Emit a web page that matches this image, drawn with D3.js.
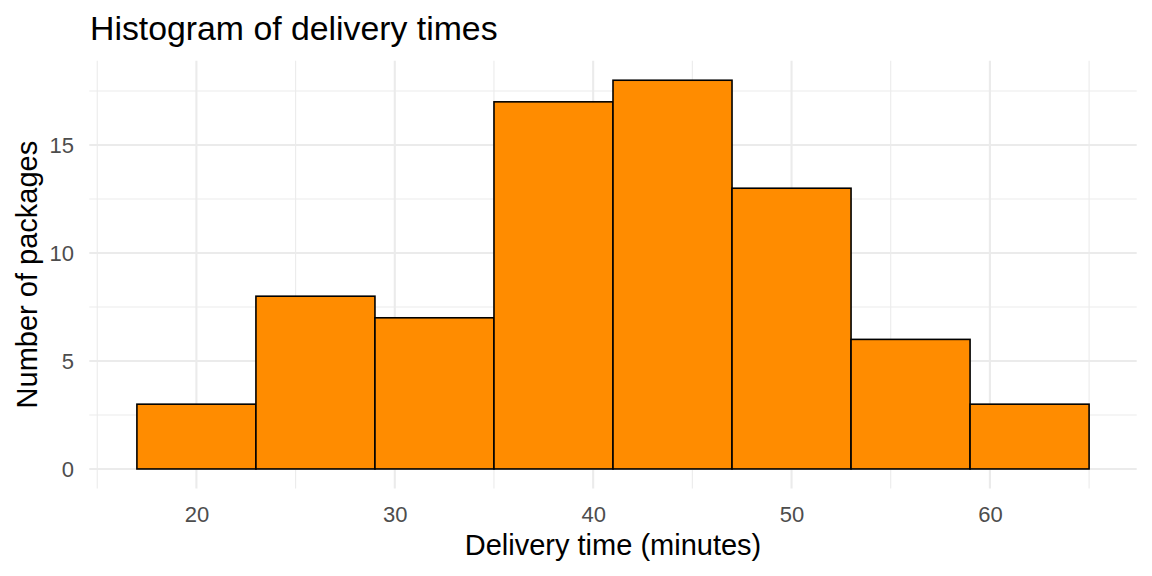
<!DOCTYPE html>
<html>
<head>
<meta charset="utf-8">
<script src="https://cdn.jsdelivr.net/npm/d3@7"></script>
<style>
  html, body { margin: 0; padding: 0; background: #fff; }
  svg { display: block; }
  text { font-family: "Liberation Sans", Arial, sans-serif; }
</style>
</head>
<body>
<svg id="chart" width="1152" height="576"></svg>
<script>
// Data
const binStarts = [17, 23, 29, 35, 41, 47, 53, 59];
const binWidth = 6;
const counts = [3, 8, 7, 17, 18, 13, 6, 3];
const xTicks = [20, 30, 40, 50, 60];
const xMinorTicks = [15, 25, 35, 45, 55, 65];
const yTicks = [0, 5, 10, 15];
const yMinorTicks = [2.5, 7.5, 12.5, 17.5];
const titleText = "Histogram of delivery times";
const xTitle = "Delivery time (minutes)";
const yTitle = "Number of packages";

const svg = d3.select("#chart");
const panel = { left: 89.3, right: 1136.7, top: 60.8, bottom: 488.4 };

const xMin = 17, xMax = 65, yMax = d3.max(counts);
const xPad = (xMax - xMin) * 0.05, yPad = yMax * 0.05;
const x = d3.scaleLinear().domain([xMin - xPad, xMax + xPad]).range([panel.left, panel.right]);
const y = d3.scaleLinear().domain([-yPad, yMax + yPad]).range([panel.bottom, panel.top]);

const grid = svg.append("g");
// minor gridlines
grid.selectAll(".ymin").data(yMinorTicks).enter().append("line")
  .attr("x1", panel.left).attr("x2", panel.right)
  .attr("y1", d => y(d)).attr("y2", d => y(d))
  .attr("stroke", "#EBEBEB").attr("stroke-width", 1.1);
grid.selectAll(".xmin").data(xMinorTicks).enter().append("line")
  .attr("y1", panel.top).attr("y2", panel.bottom)
  .attr("x1", d => x(d)).attr("x2", d => x(d))
  .attr("stroke", "#EBEBEB").attr("stroke-width", 1.1);
// major gridlines
grid.selectAll(".ymaj").data(yTicks).enter().append("line")
  .attr("x1", panel.left).attr("x2", panel.right)
  .attr("y1", d => y(d)).attr("y2", d => y(d))
  .attr("stroke", "#EBEBEB").attr("stroke-width", 2.1);
grid.selectAll(".xmaj").data(xTicks).enter().append("line")
  .attr("y1", panel.top).attr("y2", panel.bottom)
  .attr("x1", d => x(d)).attr("x2", d => x(d))
  .attr("stroke", "#EBEBEB").attr("stroke-width", 2.1);

// bars
svg.append("g").selectAll("rect").data(counts).enter().append("rect")
  .attr("x", (d, i) => x(binStarts[i]))
  .attr("width", (d, i) => x(binStarts[i] + binWidth) - x(binStarts[i]))
  .attr("y", d => y(d))
  .attr("height", d => y(0) - y(d))
  .attr("fill", "#FF8C00")
  .attr("stroke", "#000")
  .attr("stroke-width", 1.6);

// axes (tick labels only, via d3 axis)
const xAxis = d3.axisBottom(x).tickValues(xTicks).tickSize(0).tickPadding(0);
const gx = svg.append("g").attr("transform", `translate(0,${panel.bottom})`).call(xAxis);
gx.select(".domain").remove();
gx.selectAll("text").attr("y", 33.3).attr("dy", null)
  .attr("fill", "#4D4D4D").attr("font-size", "22px")
  .attr("font-family", '"Liberation Sans", Arial, sans-serif');

const yAxis = d3.axisLeft(y).tickValues(yTicks).tickSize(0).tickPadding(0);
const gy = svg.append("g").attr("transform", `translate(${panel.left},0)`).call(yAxis);
gy.select(".domain").remove();
gy.selectAll("text").attr("x", -15.3).attr("dy", "0.36em")
  .attr("fill", "#4D4D4D").attr("font-size", "22px")
  .attr("font-family", '"Liberation Sans", Arial, sans-serif');

// titles
svg.append("text").attr("x", 90).attr("y", 40)
  .attr("font-size", "33.8px").attr("fill", "#000").text(titleText);
svg.append("text").attr("x", (panel.left + panel.right) / 2).attr("y", 555)
  .attr("text-anchor", "middle").attr("font-size", "29px").attr("fill", "#000").text(xTitle);
svg.append("text")
  .attr("transform", `translate(36.5,${(panel.top + panel.bottom) / 2}) rotate(-90)`)
  .attr("text-anchor", "middle").attr("font-size", "29px").attr("fill", "#000").text(yTitle);
</script>
</body>
</html>
